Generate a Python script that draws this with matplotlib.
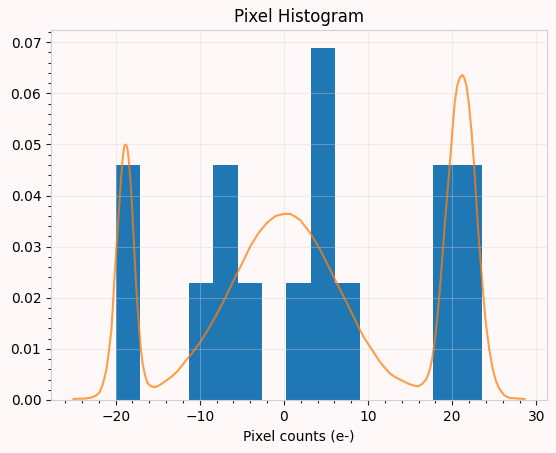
import numpy as np
import matplotlib
matplotlib.use("Agg")
import matplotlib.pyplot as plt
from matplotlib.ticker import AutoMinorLocator

# --- pixel values (e-), 15 samples ---
pixel_counts = [-20.0, -18.5, -9.8, -7.5, -6.2, -4.0, 1.8,
                3.9, 4.6, 5.3, 7.5, 18.9, 19.8, 21.7, 23.5]
n_bins = 15

# --- density curve, points ---
curve_x = [-25.0, -23.5, -22.8, -22.3, -21.9, -21.5, -21.1, -20.8, -20.5, -20.3,
           -20.15, -19.95, -19.75, -19.55, -19.36, -19.15, -18.97, -18.85, -18.7,
           -18.55, -18.4, -18.2, -18.0, -17.8, -17.6, -17.4, -17.2, -17.0, -16.8,
           -16.5, -16.2, -15.8, -15.4, -15.0, -14.6, -14.0, -13.4, -12.6, -11.9,
           -10.9, -9.9, -8.9, -7.9, -6.9, -5.95, -4.95, -3.98, -3.0, -2.0, -1.0,
           0.0, 0.76, 1.4, 1.94, 2.5, 3.12, 3.7, 4.3, 4.9, 5.49, 6.1, 6.67, 7.3,
           7.86, 8.45, 9.04, 9.6, 10.2, 10.8, 11.4, 12.0, 12.6, 13.2, 13.8, 14.4,
           14.95, 15.5, 15.94, 16.4, 16.9, 17.2, 17.4, 17.65, 17.9, 18.2, 18.5,
           18.8, 19.1, 19.4, 19.7, 20.0, 20.3, 20.6, 20.9, 21.2, 21.45, 21.7, 22.0,
           22.3, 22.6, 22.85, 23.1, 23.4, 23.7, 24.0, 24.4, 24.8, 25.2, 25.6, 26.2,
           26.8, 28.6]
curve_y = [0.0002, 0.0003, 0.0005, 0.0009, 0.0015, 0.0032, 0.0059, 0.0095, 0.0137, 0.0190,
           0.0235, 0.0285, 0.0334, 0.0385, 0.0432, 0.0475, 0.0497, 0.0500, 0.0498,
           0.0488, 0.0464, 0.0420, 0.0366, 0.0300, 0.0235, 0.0185, 0.0137, 0.0100, 0.0072,
           0.0048, 0.0033, 0.0027, 0.0025, 0.0027, 0.0031, 0.0038, 0.0045, 0.0057, 0.0072,
           0.0092, 0.0114, 0.0141, 0.0170, 0.0202, 0.0235, 0.0268, 0.0301, 0.0327, 0.0347, 0.0360,
           0.0364, 0.0364, 0.0358, 0.0352, 0.0340, 0.0327, 0.0311, 0.0294, 0.0275, 0.0255, 0.0235, 0.0216, 0.0196,
           0.0177, 0.0157, 0.0137, 0.0120, 0.0105, 0.0090, 0.0075, 0.0063, 0.0052, 0.0045, 0.0040, 0.0035,
           0.0031, 0.0028, 0.0027, 0.0031, 0.0040, 0.0052, 0.0064, 0.0084, 0.0111, 0.0157, 0.0209,
           0.0272, 0.0340, 0.0400, 0.0458, 0.0522, 0.0582, 0.0615, 0.0631, 0.0636, 0.0630, 0.0615, 0.0577,
           0.0525, 0.0460, 0.0395, 0.0330, 0.0265, 0.0205, 0.0150, 0.0100, 0.0062, 0.0037, 0.0022, 0.0009,
           0.0004, 0.0002]

BG = "#fff8f9"
SPINE = "#cfcfdc"

fig = plt.figure(figsize=(5.56, 4.53), dpi=100, facecolor=BG)
ax = fig.add_axes([0.0917, 0.117, 0.8923, 0.817], facecolor=BG)

ax.hist(pixel_counts, bins=n_bins, density=True, color="#1f77b4")
ax.plot(curve_x, curve_y, color="#ff7f0e", alpha=0.75, linewidth=1.5)

ax.set_title("Pixel Histogram", fontsize=12)
ax.set_xlabel("Pixel counts (e-)", fontsize=10)

ax.xaxis.set_minor_locator(AutoMinorLocator())
ax.yaxis.set_minor_locator(AutoMinorLocator())
ax.tick_params(which="major", length=3.5, width=0.8, color="#222222", labelsize=10)
ax.tick_params(which="minor", length=2, width=0.8, color="#222222")
ax.grid(True, color="#d8d0d8", alpha=0.35, linewidth=0.8)
for sp in ax.spines.values():
    sp.set_color(SPINE)

fig.savefig("out.png", dpi=100, facecolor=BG)
